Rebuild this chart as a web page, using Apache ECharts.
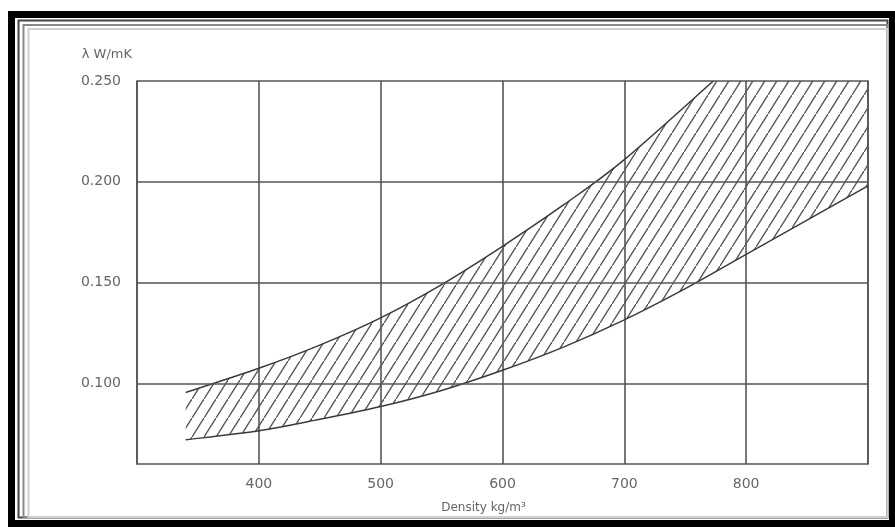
<!DOCTYPE html>
<html>
<head>
<meta charset="utf-8">
<script src="https://cdn.jsdelivr.net/npm/echarts@6/dist/echarts.min.js"></script>
<style>html,body{margin:0;padding:0;background:#fff}#c{width:895px;height:527px}</style>
</head>
<body>
<div id="c"></div>
<script>
// Data
const upperDensity = [340, 400, 450, 500, 550, 600, 650, 700, 773];
const lambdaUpper = [0.0955, 0.1075, 0.119, 0.1325, 0.149, 0.168, 0.1885, 0.211, 0.25];
const lowerDensity = [340, 400, 450, 500, 550, 600, 650, 700, 750, 800, 850, 900];
const lambdaLower = [0.072, 0.0765, 0.0822, 0.0885, 0.0965, 0.1065, 0.118, 0.1315, 0.147, 0.164, 0.181, 0.198];
const yTickValues = [0.100, 0.150, 0.200, 0.250];
const xTitle = 'Density kg/m³';
const yTitle = 'λ W/mK';
const xMin = 300, xMax = 900, yMin = 0.06, yMax = 0.25;

// hatch pattern
function makeHatch() {
  const w = 12, h = 19;
  const cv = document.createElement('canvas');
  cv.width = w; cv.height = h;
  const ctx = cv.getContext('2d');
  ctx.strokeStyle = '#555';
  ctx.lineWidth = 1.4;
  for (const [dx, dy] of [[0,0],[-w,h],[w,-h]]) {
    ctx.beginPath();
    ctx.moveTo(0 + dx, h + dy);
    ctx.lineTo(w + dx, 0 + dy);
    ctx.stroke();
  }
  return cv;
}
const hatch = makeHatch();

// Catmull-Rom through pixel points -> SVG path segments (without initial M)
function curveSegs(p) {
  let s = '';
  for (let i = 0; i < p.length - 1; i++) {
    const p0 = p[Math.max(0, i - 1)], p1 = p[i], p2 = p[i + 1], p3 = p[Math.min(p.length - 1, i + 2)];
    const c1x = p1[0] + (p2[0] - p0[0]) / 6, c1y = p1[1] + (p2[1] - p0[1]) / 6;
    const c2x = p2[0] - (p3[0] - p1[0]) / 6, c2y = p2[1] - (p3[1] - p1[1]) / 6;
    s += ` C ${c1x} ${c1y} ${c2x} ${c2y} ${p2[0]} ${p2[1]}`;
  }
  return s;
}

function renderBand(params, api) {
  const up = upperDensity.map((d, i) => api.coord([d, lambdaUpper[i]]));
  const lo = lowerDensity.map((d, i) => api.coord([d, lambdaLower[i]]));
  const loRev = lo.slice().reverse();
  const corner = api.coord([xMax, yMax]);
  const fillPath = `M ${up[0][0]} ${up[0][1]}` + curveSegs(up) +
    ` L ${corner[0]} ${corner[1]} L ${loRev[0][0]} ${loRev[0][1]}` + curveSegs(loRev) + ' Z';
  const upPath = `M ${up[0][0]} ${up[0][1]}` + curveSegs(up);
  const loPath = `M ${lo[0][0]} ${lo[0][1]}` + curveSegs(lo);
  return {
    type: 'group',
    children: [
      {type: 'path', shape: {pathData: fillPath}, style: {fill: {image: hatch, repeat: 'repeat'}, stroke: null}},
      {type: 'path', shape: {pathData: upPath}, style: {fill: null, stroke: '#3a3a3a', lineWidth: 1.5}},
      {type: 'path', shape: {pathData: loPath}, style: {fill: null, stroke: '#3a3a3a', lineWidth: 1.5}}
    ]
  };
}

const chart = echarts.init(document.getElementById('c'), null, {renderer: 'canvas'});
const gridColor = '#555';
const option = {
  animation: false,
  backgroundColor: '#fff',
  textStyle: {fontFamily: 'DejaVu Sans'},
  grid: {left: 137, top: 81, right: 27, bottom: 63, show: true, borderColor: gridColor, borderWidth: 1.6, backgroundColor: 'transparent'},
  xAxis: {
    type: 'value', min: xMin, max: xMax, interval: 100,
    axisLine: {show: false}, axisTick: {show: false},
    axisLabel: {showMinLabel: false, showMaxLabel: false, color: '#666', fontSize: 14, margin: 13},
    splitLine: {show: true, lineStyle: {color: gridColor, width: 1.6}},
    name: xTitle, nameLocation: 'middle', nameGap: 38,
    nameTextStyle: {color: '#666', fontSize: 12, padding: [0, 38, 0, 0]}
  },
  yAxis: {
    type: 'value', min: yMin, max: yMax, interval: 0.01,
    axisLine: {show: false}, axisTick: {show: false},
    axisLabel: {
      color: '#666', fontSize: 14, margin: 16,
      formatter: v => yTickValues.some(t => Math.abs(t - v) < 1e-6) ? v.toFixed(3) : ''
    },
    splitLine: {show: false},
    name: yTitle, nameLocation: 'end', nameGap: 26,
    nameTextStyle: {color: '#666', fontSize: 13, align: 'right', verticalAlign: 'middle', padding: [0, 5, 0, 0]}
  },
  series: [
    {
      type: 'line', data: [], silent: true,
      markLine: {
        silent: true, symbol: 'none', label: {show: false},
        lineStyle: {color: gridColor, width: 1.6, type: 'solid'},
        data: yTickValues.filter(t => t < yMax).map(t => ({yAxis: t}))
      }
    },
    {
      type: 'custom', silent: true, clip: true,
      data: [[upperDensity[0], lambdaUpper[0]]],
      renderItem: renderBand
    }
  ],
  graphic: [
    {type: 'rect', silent: true, z: 100, shape: {x: 11.5, y: 14.5, width: 881, height: 509}, style: {fill: 'none', stroke: '#000', lineWidth: 7}},
    {type: 'rect', silent: true, z: 100, shape: {x: 18.5, y: 20.5, width: 869, height: 497}, style: {fill: 'none', stroke: '#444', lineWidth: 2}},
    {type: 'rect', silent: true, z: 100, shape: {x: 23.5, y: 25, width: 864, height: 492}, style: {fill: 'none', stroke: '#888', lineWidth: 2}},
    {type: 'rect', silent: true, z: 100, shape: {x: 28.5, y: 29, width: 859, height: 488}, style: {fill: 'none', stroke: '#d0d0d0', lineWidth: 2}}
  ]
};
chart.setOption(option);
</script>
</body>
</html>
